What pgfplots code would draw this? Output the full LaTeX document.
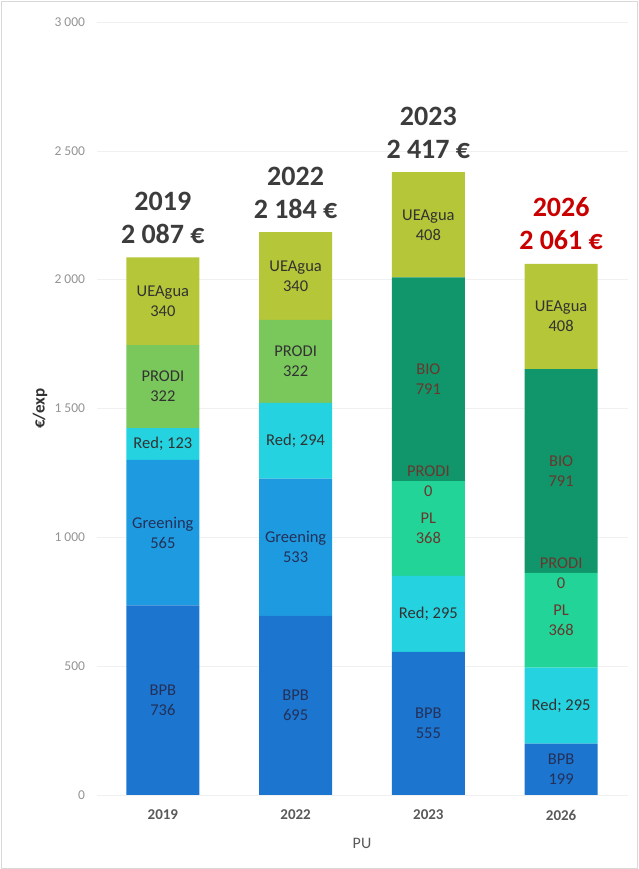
\documentclass[border=0pt]{standalone}
\usepackage{fontspec}
\setmainfont{Carlito}
\usepackage{pgfplots}
\pgfplotsset{compat=1.18}
\definecolor{cBPB}{RGB}{28,117,207}
\definecolor{cGre}{RGB}{30,155,224}
\definecolor{cRed}{RGB}{36,210,224}
\definecolor{cPL}{RGB}{34,212,152}
\definecolor{cPRO}{RGB}{122,200,92}
\definecolor{cBIO}{RGB}{16,150,106}
\definecolor{cUEA}{RGB}{181,198,56}
\definecolor{txt}{RGB}{50,50,50}
\definecolor{txtb}{RGB}{36,48,88}
\definecolor{txtr}{RGB}{105,55,45}
\definecolor{head}{RGB}{60,60,60}
\definecolor{headred}{RGB}{200,0,0}
\tikzset{seg/.style={align=center, font=\fontsize{16.5}{20}\selectfont, text=txt, inner sep=0pt},
  hd/.style={anchor=base, font=\bfseries\fontsize{28}{33}\selectfont, text=head, inner sep=0pt}}
\begin{document}
\begin{tikzpicture}[x=1pt,y=1pt]
\useasboundingbox (0,0) rectangle (638,869);
\draw[gray!30, line width=0.8pt] (1,1) rectangle (637,868);
\begin{axis}[
  at={(96.5pt,74pt)}, anchor=south west,
  scale only axis, width=531pt, height=773pt,
  ybar stacked, bar width=73pt,
  xmin=-0.5, xmax=3.5, ymin=0, ymax=3000,
  xtick={0,1,2,3}, xticklabels={2019,2022,2023,2026},
  ytick={0,500,...,3000},
  axis line style={draw=none}, tick style={draw=none},
  ymajorgrids, grid style={gray!12},
  clip=false,
  /pgf/number format/assume math mode=true,
  /pgf/number format/1000 sep={\hspace{0.22em}},
  yticklabel style={anchor=east, xshift=-8pt, font=\fontsize{13.5}{15}\selectfont, text=gray!85},
  xticklabel style={anchor=center, yshift=-20pt, font=\bfseries\fontsize{15}{17}\selectfont, text=gray!130},
  every axis x label/.style={at={(axis description cs:0.5,0)}, anchor=center, yshift=-48pt, font=\fontsize{16}{18}\selectfont, text=gray!130},
  every axis y label/.style={at={(axis description cs:-0.1064,0.5)}, rotate=90, anchor=center, font=\bfseries\fontsize{17}{19}\selectfont, text=txt},
  xlabel={PU}, ylabel={€/exp},
]
% BPB
\addplot[fill=cBPB, draw=none] coordinates {(0,736) (1,695) (2,555) (3,199)};
% Greening
\addplot[fill=cGre, draw=none] coordinates {(0,565) (1,533) (2,0) (3,0)};
% Red
\addplot[fill=cRed, draw=none] coordinates {(0,123) (1,294) (2,295) (3,295)};
% PL
\addplot[fill=cPL, draw=none] coordinates {(0,0) (1,0) (2,368) (3,368)};
% PRODI
\addplot[fill=cPRO, draw=none] coordinates {(0,322) (1,322) (2,0) (3,0)};
% BIO
\addplot[fill=cBIO, draw=none] coordinates {(0,0) (1,0) (2,791) (3,791)};
% UEAgua
\addplot[fill=cUEA, draw=none] coordinates {(0,340) (1,340) (2,408) (3,408)};

% label anchors (segment midpoints)
\coordinate (a1) at (axis cs:0,368);
\coordinate (a2) at (axis cs:0,1018.5);
\coordinate (a3) at (axis cs:0,1362.5);
\coordinate (a4) at (axis cs:0,1585);
\coordinate (a5) at (axis cs:0,1916);
\coordinate (b1) at (axis cs:1,347.5);
\coordinate (b2) at (axis cs:1,961.5);
\coordinate (b3) at (axis cs:1,1375);
\coordinate (b4) at (axis cs:1,1683);
\coordinate (b5) at (axis cs:1,2014);
\coordinate (c1) at (axis cs:2,277.5);
\coordinate (c2) at (axis cs:2,702.5);
\coordinate (c3) at (axis cs:2,1034);
\coordinate (c4) at (axis cs:2,1218);
\coordinate (c5) at (axis cs:2,1613.5);
\coordinate (c6) at (axis cs:2,2213);
\coordinate (d1) at (axis cs:3,99.5);
\coordinate (d2) at (axis cs:3,346.5);
\coordinate (d3) at (axis cs:3,678);
\coordinate (d4) at (axis cs:3,862);
\coordinate (d5) at (axis cs:3,1257.5);
\coordinate (d6) at (axis cs:3,1857);
\coordinate (ta) at (axis cs:0,2087);
\coordinate (tb) at (axis cs:1,2184);
\coordinate (tc) at (axis cs:2,2417);
\coordinate (td) at (axis cs:3,2061);
\end{axis}
% 2019
\node[seg, text=txtb] at (a1) {BPB\\736};
\node[seg, text=txtb] at (a2) {Greening\\565};
\node[seg] at (a3) {Red; 123};
\node[seg] at (a4) {PRODI\\322};
\node[seg] at (a5) {UEAgua\\340};
% 2022
\node[seg, text=txtb] at (b1) {BPB\\695};
\node[seg, text=txtb] at (b2) {Greening\\533};
\node[seg] at (b3) {Red; 294};
\node[seg] at (b4) {PRODI\\322};
\node[seg] at (b5) {UEAgua\\340};
% 2023
\node[seg, text=txtb] at (c1) {BPB\\555};
\node[seg] at (c2) {Red; 295};
\node[seg, text=txtr] at (c3) {PL\\368};
\node[seg, text=txtr] at (c4) {PRODI\\0};
\node[seg, text=txtr] at (c5) {BIO\\791};
\node[seg] at (c6) {UEAgua\\408};
% 2026
\node[seg, text=txtb] at (d1) {BPB\\199};
\node[seg] at (d2) {Red; 295};
\node[seg, text=txtr] at (d3) {PL\\368};
\node[seg, text=txtr] at (d4) {PRODI\\0};
\node[seg, text=txtr] at (d5) {BIO\\791};
\node[seg] at (d6) {UEAgua\\408};
% headlines
\node[hd, yshift=14pt] at (ta) {2\hspace{0.22em}087 €};
\node[hd, yshift=47pt] at (ta) {2019};
\node[hd, yshift=14pt] at (tb) {2\hspace{0.22em}184 €};
\node[hd, yshift=47pt] at (tb) {2022};
\node[hd, yshift=14pt] at (tc) {2\hspace{0.22em}417 €};
\node[hd, yshift=47pt] at (tc) {2023};
\node[hd, text=headred, yshift=14pt] at (td) {2\hspace{0.22em}061 €};
\node[hd, text=headred, yshift=47pt] at (td) {2026};
\end{tikzpicture}
\end{document}
